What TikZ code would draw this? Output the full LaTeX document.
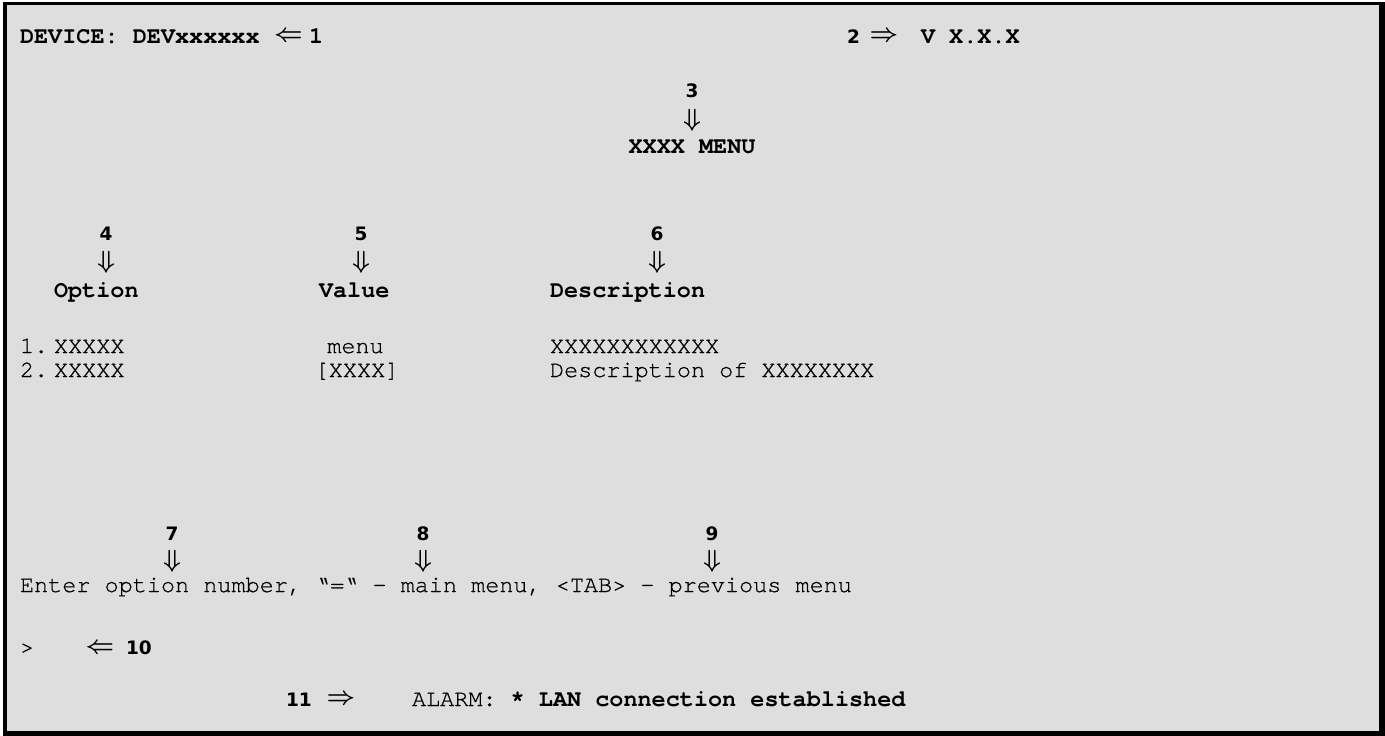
\documentclass[tikz,border=0pt]{standalone}
\usepackage{fontspec}
\setmonofont{texgyrecursor}[Extension=.otf,UprightFont=*-regular,BoldFont=*-bold,ItalicFont=*-italic,BoldItalicFont=*-bolditalic,UprightFeatures={FakeBold=0.6}]
\newfontfamily\numfont{DejaVu Sans}
\definecolor{scr}{RGB}{222,222,222}
\begin{document}
\begin{tikzpicture}[x=1pt,y=-1pt,
 txt/.style={anchor=base west,inner sep=0pt,outer sep=0pt,font=\fontsize{23.5}{28}\selectfont\ttfamily},
 btxt/.style={anchor=base west,inner sep=0pt,outer sep=0pt,font=\fontsize{23.5}{28}\selectfont\ttfamily\bfseries},
 num/.style={anchor=base,inner sep=0pt,outer sep=0pt,font=\fontsize{18.5}{22}\selectfont\numfont\bfseries},
 darr/.style={inner sep=0pt,outer sep=0pt,font=\fontsize{24.88}{30}\selectfont\boldmath},
 harr/.style={inner sep=0pt,outer sep=0pt,font=\fontsize{24.88}{30}\selectfont\boldmath}]
\useasboundingbox (0,0) rectangle (1385,736);
\fill[black] (3,2) rectangle (1385,736);
\fill[scr] (7,5) rectangle (1379,731);
% row 1
\node[btxt] (dev) at (20,43) {DEVICE: DEVxxxxxx};
\node[harr] (a1) at (288.5,37) {$\Leftarrow$};
\node[btxt] (n1) at (309,43) {1};
\node[num] (n2) at (853.5,43) {2};
\node[harr] (a2) at (884,37) {$\Rightarrow$};
\node[btxt] (ver) at (921,43) {V X.X.X};
% title
\node[num] (n3) at (692,97) {3};
\node[darr] (a3) at (692,120) {$\Downarrow$};
\node[btxt,anchor=base] (title) at (692,153) {XXXX MENU};
% headers
\node[num] (n4) at (106,240) {4};
\node[num] (n5) at (361,240) {5};
\node[num] (n6) at (657,240) {6};
\node[darr] (a4) at (106,262) {$\Downarrow$};
\node[darr] (a5) at (361,262) {$\Downarrow$};
\node[darr] (a6) at (657,262) {$\Downarrow$};
\node[btxt] (hopt) at (54,297) {Option};
\node[btxt] (hval) at (319,297) {Value};
\node[btxt] (hdesc) at (550,297) {Description};
% rows
\node[txt] (r1n) at (20,353) {1.};
\node[txt] (r1o) at (54,353) {XXXXX};
\node[txt,anchor=base] (r1v) at (355.5,353) {menu};
\node[txt] (r1d) at (550,353) {XXXXXXXXXXXX};
\node[txt] (r2n) at (20,377) {2.};
\node[txt] (r2o) at (54,377) {XXXXX};
\node[txt,anchor=base] (r2v) at (357,377) {[XXXX]};
\node[txt] (r2d) at (550,377) {Description of XXXXXXXX};
% prompt line
\node[num] (n7) at (172,540) {7};
\node[num] (n8) at (423,540) {8};
\node[num] (n9) at (712,540) {9};
\node[darr] (a7) at (172,561) {$\Downarrow$};
\node[darr] (a8) at (423,561) {$\Downarrow$};
\node[darr] (a9) at (712,561) {$\Downarrow$};
\node[txt] (enter) at (20,592) {Enter option number, “=“ - main menu, <TAB> - previous menu};
% input
\node[txt] (gt) at (20,654) {>};
\node[harr] (a10) at (100,649) {$\Leftarrow$};
\node[num,anchor=base west] (n10) at (126,654) {10};
% alarm
\node[num,anchor=base west] (n11) at (286,706) {11};
\node[harr] (a11) at (341,700) {$\Rightarrow$};
\node[txt] (alarm) at (412,706) {ALARM: \textbf{* LAN connection established}};
\end{tikzpicture}
\end{document}
